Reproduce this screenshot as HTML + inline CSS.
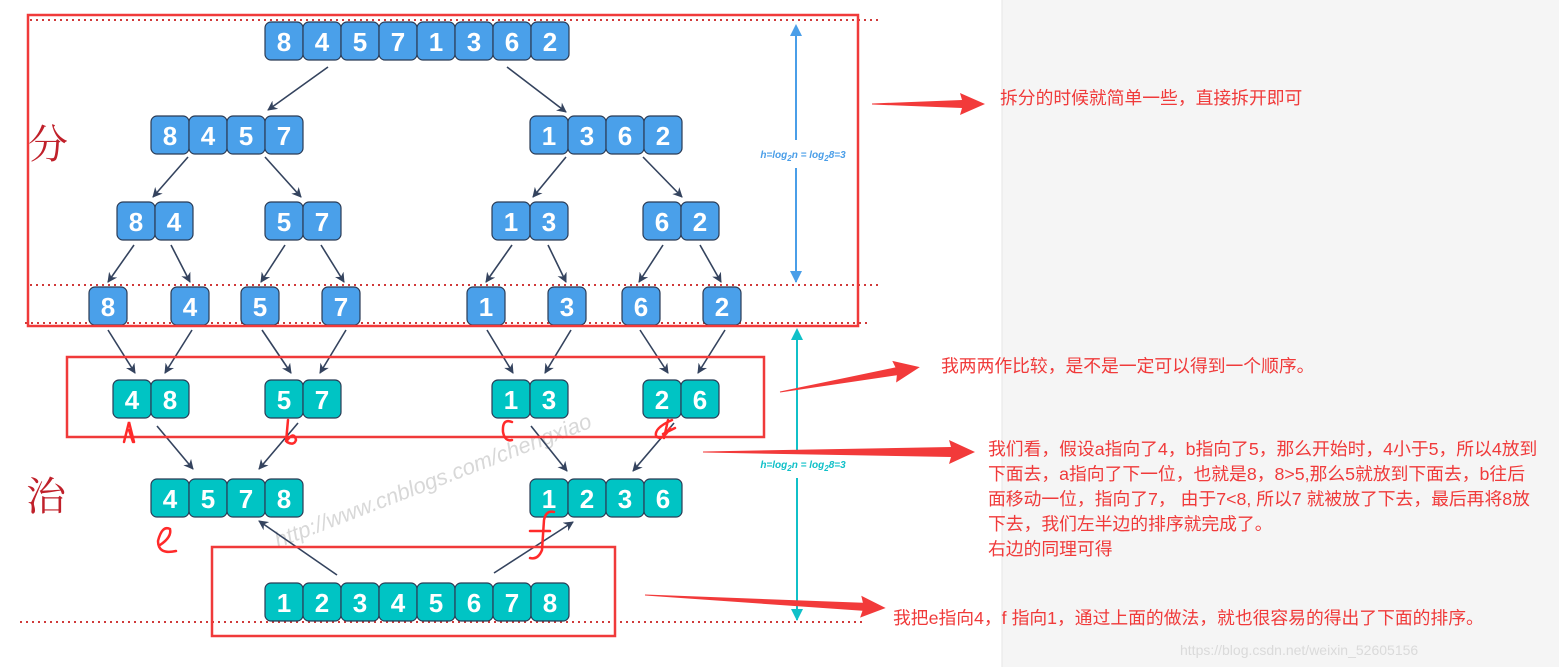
<!DOCTYPE html>
<html><head><meta charset="utf-8"><style>
html,body{margin:0;padding:0;background:#fff}
svg{display:block}
.c{stroke:#2b3b55;stroke-width:1.2}
.d{fill:#fff;font:bold 26px "Liberation Sans",sans-serif;text-anchor:middle}
.t{fill:#f03a3a;font-size:17.8px;font-family:"Liberation Sans","Noto Sans CJK SC",sans-serif}
</style></head><body>
<svg width="1559" height="667" viewBox="0 0 1559 667" xmlns="http://www.w3.org/2000/svg">
<defs>
<marker id="m" markerWidth="10" markerHeight="10" refX="9" refY="5" orient="auto" markerUnits="userSpaceOnUse"><path d="M0,0 L10,5 L0,10 L3,5z" fill="#34435e"/></marker>
<marker id="mb" markerWidth="12" markerHeight="14" refX="11" refY="7" orient="auto" markerUnits="userSpaceOnUse"><path d="M0,1 L12,7 L0,13 z" fill="#4a9ee8"/></marker>
<marker id="mt" markerWidth="12" markerHeight="14" refX="11" refY="7" orient="auto" markerUnits="userSpaceOnUse"><path d="M0,1 L12,7 L0,13 z" fill="#10c0c8"/></marker>
</defs>
<rect x="1002" y="0" width="557" height="667" fill="#f5f5f5"/>
<line x1="1002" y1="0" x2="1002" y2="667" stroke="#e6e6e6"/>

<g stroke="#d03a3a" stroke-width="2" stroke-dasharray="2,4">
<line x1="30" y1="20" x2="880" y2="20"/>
<line x1="30" y1="285" x2="880" y2="285"/>
<line x1="25" y1="323" x2="870" y2="323"/>
<line x1="20" y1="622" x2="862" y2="622"/>
</g>

<text x="0" y="0" transform="translate(278,548) rotate(-21)" fill="#d8d8d8" font-family="Liberation Sans,sans-serif" font-size="22" font-style="italic">http://www.cnblogs.com/chengxiao</text>

<g fill="#4aa0ea" class="c">
<rect x="265" y="22" width="38" height="38" rx="6"/><rect x="303" y="22" width="38" height="38" rx="6"/><rect x="341" y="22" width="38" height="38" rx="6"/><rect x="379" y="22" width="38" height="38" rx="6"/><rect x="417" y="22" width="38" height="38" rx="6"/><rect x="455" y="22" width="38" height="38" rx="6"/><rect x="493" y="22" width="38" height="38" rx="6"/><rect x="531" y="22" width="38" height="38" rx="6"/>
<rect x="151" y="116" width="38" height="38" rx="6"/><rect x="189" y="116" width="38" height="38" rx="6"/><rect x="227" y="116" width="38" height="38" rx="6"/><rect x="265" y="116" width="38" height="38" rx="6"/>
<rect x="530" y="116" width="38" height="38" rx="6"/><rect x="568" y="116" width="38" height="38" rx="6"/><rect x="606" y="116" width="38" height="38" rx="6"/><rect x="644" y="116" width="38" height="38" rx="6"/>
<rect x="117" y="202" width="38" height="38" rx="6"/><rect x="155" y="202" width="38" height="38" rx="6"/>
<rect x="265" y="202" width="38" height="38" rx="6"/><rect x="303" y="202" width="38" height="38" rx="6"/>
<rect x="492" y="202" width="38" height="38" rx="6"/><rect x="530" y="202" width="38" height="38" rx="6"/>
<rect x="643" y="202" width="38" height="38" rx="6"/><rect x="681" y="202" width="38" height="38" rx="6"/>
<rect x="89" y="287" width="38" height="38" rx="6"/><rect x="171" y="287" width="38" height="38" rx="6"/><rect x="241" y="287" width="38" height="38" rx="6"/><rect x="322" y="287" width="38" height="38" rx="6"/><rect x="467" y="287" width="38" height="38" rx="6"/><rect x="548" y="287" width="38" height="38" rx="6"/><rect x="622" y="287" width="38" height="38" rx="6"/><rect x="703" y="287" width="38" height="38" rx="6"/>
</g>
<g fill="#00c4c4" class="c">
<rect x="113" y="380" width="38" height="38" rx="6"/><rect x="151" y="380" width="38" height="38" rx="6"/>
<rect x="265" y="380" width="38" height="38" rx="6"/><rect x="303" y="380" width="38" height="38" rx="6"/>
<rect x="492" y="380" width="38" height="38" rx="6"/><rect x="530" y="380" width="38" height="38" rx="6"/>
<rect x="643" y="380" width="38" height="38" rx="6"/><rect x="681" y="380" width="38" height="38" rx="6"/>
<rect x="151" y="479" width="38" height="38" rx="6"/><rect x="189" y="479" width="38" height="38" rx="6"/><rect x="227" y="479" width="38" height="38" rx="6"/><rect x="265" y="479" width="38" height="38" rx="6"/>
<rect x="530" y="479" width="38" height="38" rx="6"/><rect x="568" y="479" width="38" height="38" rx="6"/><rect x="606" y="479" width="38" height="38" rx="6"/><rect x="644" y="479" width="38" height="38" rx="6"/>
<rect x="265" y="583" width="38" height="38" rx="6"/><rect x="303" y="583" width="38" height="38" rx="6"/><rect x="341" y="583" width="38" height="38" rx="6"/><rect x="379" y="583" width="38" height="38" rx="6"/><rect x="417" y="583" width="38" height="38" rx="6"/><rect x="455" y="583" width="38" height="38" rx="6"/><rect x="493" y="583" width="38" height="38" rx="6"/><rect x="531" y="583" width="38" height="38" rx="6"/>
</g>
<g class="d">
<text x="284" y="51">8</text><text x="322" y="51">4</text><text x="360" y="51">5</text><text x="398" y="51">7</text><text x="436" y="51">1</text><text x="474" y="51">3</text><text x="512" y="51">6</text><text x="550" y="51">2</text>
<text x="170" y="145">8</text><text x="208" y="145">4</text><text x="246" y="145">5</text><text x="284" y="145">7</text>
<text x="549" y="145">1</text><text x="587" y="145">3</text><text x="625" y="145">6</text><text x="663" y="145">2</text>
<text x="136" y="231">8</text><text x="174" y="231">4</text><text x="284" y="231">5</text><text x="322" y="231">7</text><text x="511" y="231">1</text><text x="549" y="231">3</text><text x="662" y="231">6</text><text x="700" y="231">2</text>
<text x="108" y="316">8</text><text x="190" y="316">4</text><text x="260" y="316">5</text><text x="341" y="316">7</text><text x="486" y="316">1</text><text x="567" y="316">3</text><text x="641" y="316">6</text><text x="722" y="316">2</text>
<text x="132" y="409">4</text><text x="170" y="409">8</text><text x="284" y="409">5</text><text x="322" y="409">7</text><text x="511" y="409">1</text><text x="549" y="409">3</text><text x="662" y="409">2</text><text x="700" y="409">6</text>
<text x="170" y="508">4</text><text x="208" y="508">5</text><text x="246" y="508">7</text><text x="284" y="508">8</text>
<text x="549" y="508">1</text><text x="587" y="508">2</text><text x="625" y="508">3</text><text x="663" y="508">6</text>
<text x="284" y="612">1</text><text x="322" y="612">2</text><text x="360" y="612">3</text><text x="398" y="612">4</text><text x="436" y="612">5</text><text x="474" y="612">6</text><text x="512" y="612">7</text><text x="550" y="612">8</text>
</g>

<g stroke="#34435e" stroke-width="1.6" marker-end="url(#m)">
<line x1="328" y1="67" x2="268" y2="110"/><line x1="507" y1="67" x2="566" y2="112"/>
<line x1="188" y1="157" x2="153" y2="197"/><line x1="265" y1="157" x2="301" y2="197"/><line x1="566" y1="157" x2="533" y2="197"/><line x1="643" y1="157" x2="682" y2="197"/>
<line x1="134" y1="245" x2="108" y2="282"/><line x1="171" y1="245" x2="190" y2="282"/><line x1="285" y1="245" x2="261" y2="282"/><line x1="321" y1="245" x2="344" y2="282"/><line x1="512" y1="245" x2="486" y2="282"/><line x1="548" y1="245" x2="566" y2="282"/><line x1="663" y1="245" x2="639" y2="282"/><line x1="700" y1="245" x2="721" y2="282"/>
<line x1="108" y1="330" x2="135" y2="373"/><line x1="192" y1="330" x2="165" y2="373"/><line x1="262" y1="330" x2="291" y2="373"/><line x1="346" y1="330" x2="320" y2="373"/><line x1="487" y1="330" x2="513" y2="373"/><line x1="571" y1="330" x2="545" y2="373"/><line x1="640" y1="330" x2="668" y2="373"/><line x1="725" y1="330" x2="698" y2="373"/>
<line x1="157" y1="426" x2="193" y2="469"/><line x1="298" y1="423" x2="259" y2="469"/><line x1="531" y1="426" x2="567" y2="471"/><line x1="674" y1="423" x2="633" y2="471"/>
<line x1="337" y1="575" x2="259" y2="521"/><line x1="494" y1="573" x2="573" y2="522"/>
</g>

<g fill="none" stroke="#f03a3a" stroke-width="2.5">
<rect x="28" y="15" width="830" height="311"/>
<rect x="67" y="357" width="697" height="80"/>
<rect x="212" y="547" width="403" height="89"/>
</g>

<line x1="796" y1="30" x2="796" y2="140" stroke="#4a9ee8" stroke-width="2"/>
<path d="M796,24 l-6,12 h12z" fill="#4a9ee8"/>
<line x1="796" y1="168" x2="796" y2="282" stroke="#4a9ee8" stroke-width="2" marker-end="url(#mb)"/>
<text x="803" y="158" fill="#4a9ee8" font-family="Liberation Sans,sans-serif" font-size="10" font-weight="bold" font-style="italic" text-anchor="middle">h=log<tspan dy="3" font-size="8">2</tspan><tspan dy="-3">n = log</tspan><tspan dy="3" font-size="8">2</tspan><tspan dy="-3">8=3</tspan></text>
<line x1="797" y1="336" x2="797" y2="452" stroke="#10c0c8" stroke-width="2"/>
<path d="M797,328 l-6,12 h12z" fill="#10c0c8"/>
<line x1="797" y1="478" x2="797" y2="620" stroke="#10c0c8" stroke-width="2" marker-end="url(#mt)"/>
<text x="803" y="468" fill="#10c0c8" font-family="Liberation Sans,sans-serif" font-size="10" font-weight="bold" font-style="italic" text-anchor="middle">h=log<tspan dy="3" font-size="8">2</tspan><tspan dy="-3">n = log</tspan><tspan dy="3" font-size="8">2</tspan><tspan dy="-3">8=3</tspan></text>

<g fill="#f23a3a">
<polygon transform="translate(872,104) rotate(0)" points="0,-0.5 90,-4 88,-11 113,0 88,11 90,4 0,0.5"/>
<polygon transform="translate(780,392) rotate(-10.1)" points="0,-0.5 118,-4 116,-11 142,0 116,11 118,4 0,0.5"/>
<polygon transform="translate(703,452) rotate(0)" points="0,-0.5 248,-5 246,-12 272,0 246,12 248,5 0,0.5"/>
<polygon transform="translate(645,595) rotate(3.1)" points="0,-0.5 218,-4 216,-11 241,0 216,11 218,4 0,0.5"/>
</g>

<g fill="none" stroke="#ff2a2a" stroke-width="2.5" stroke-linecap="round">
<path d="M124,442 l5,-20 l5,20 M129,430 l4,12"/>
<path d="M288,420 l-2,22 q8,-12 10,-2 q-2,6 -9,2"/>
<path d="M512,422 q-10,-4 -9,10 q2,10 9,8"/>
<path d="M672,420 q-18,8 -16,16 q6,6 14,-8 M668,420 l-4,18 M675,428 l-12,6"/>
<path d="M160,545 q12,-8 10,-16 q-8,-4 -12,12 q0,14 18,10"/>
<path d="M554,512 q-8,-2 -10,8 l-2,30 q-4,10 -12,8 M530,531 l20,0"/>
</g>

<text x="28" y="158" fill="#c0202a" font-family="Liberation Serif,'Noto Serif CJK SC',serif" font-size="40">分</text>
<text x="26" y="510" fill="#c0202a" font-family="Liberation Serif,'Noto Serif CJK SC',serif" font-size="40">治</text>

<text class="t" x="1000" y="104">拆分的时候就简单一些，直接拆开即可</text>
<text class="t" x="941" y="372">我两两作比较，是不是一定可以得到一个顺序。</text>
<text class="t" x="988" y="455">我们看，假设a指向了4，b指向了5，那么开始时，4小于5，所以4放到</text>
<text class="t" x="988" y="480">下面去，a指向了下一位，也就是8，8&gt;5,那么5就放到下面去，b往后</text>
<text class="t" x="988" y="505">面移动一位，指向了7， 由于7&lt;8, 所以7 就被放了下去，最后再将8放</text>
<text class="t" x="988" y="530">下去，我们左半边的排序就完成了。</text>
<text class="t" x="988" y="555">右边的同理可得</text>
<text class="t" x="893" y="624">我把e指向4，f 指向1，通过上面的做法，就也很容易的得出了下面的排序。</text>
<text x="1180" y="655" fill="#dadada" font-family="Liberation Sans,sans-serif" font-size="14">https://blog.csdn.net/weixin_52605156</text>
</svg>
</body></html>
